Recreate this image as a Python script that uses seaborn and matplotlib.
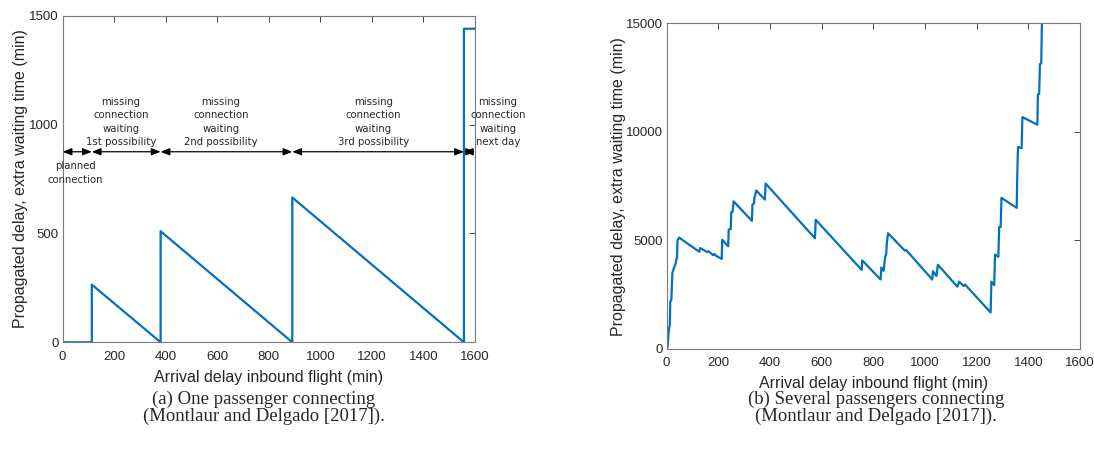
import numpy as np
import pandas as pd
import matplotlib
matplotlib.use('Agg')
import matplotlib.pyplot as plt
import seaborn as sns

# (a) one passenger connecting
one_x = [0, 113, 113, 380, 380, 891, 891, 1557, 1557, 1600]
one_y = [0, 0, 265, 0, 510, 0, 665, 0, 1440, 1440]

# connection windows on the annotation row
window_edges = [0, 113, 380, 891, 1557, 1600]
window_labels = ['planned\nconnection',
                 'missing\nconnection\nwaiting\n1st possibility',
                 'missing\nconnection\nwaiting\n2nd possibility',
                 'missing\nconnection\nwaiting\n3rd possibility',
                 'missing\nconnection\nwaiting\nnext day']
label_x = [48, 226, 614, 1205, 1689]

# (b) several passengers connecting
several_x = [2, 5, 7, 10, 12, 14, 18, 22, 26, 30, 34, 38, 40, 42, 48,
             126, 130, 157, 162, 180, 185, 190, 213, 215, 238, 240, 248, 250, 255, 259,
             330, 332, 338, 340, 342, 347, 380, 383,
             574, 577, 755, 757, 828, 831, 840, 845, 850, 852, 857,
             922, 927, 1028, 1031, 1044, 1050, 1125, 1132, 1150, 1155, 1254, 1257,
             1268, 1271, 1284, 1287, 1293, 1296, 1355, 1357, 1360, 1374, 1377,
             1435, 1437, 1442, 1445, 1450, 1452, 1455]
several_y = [0, 300, 700, 1000, 1100, 2200, 2250, 3500, 3650, 3800, 3900, 4150, 4200, 5000, 5130,
             4480, 4650, 4460, 4500, 4320, 4380, 4300, 4150, 5030, 4730, 5500, 5520, 6300, 6320, 6800,
             5900, 6650, 6700, 7000, 7050, 7300, 6880, 7620,
             5100, 5950, 3640, 4080, 3200, 3750, 3600, 4200, 4400, 4850, 5330,
             4530, 4560, 3200, 3580, 3360, 3880, 2870, 3100, 2900, 2970, 1680, 3100,
             2940, 4350, 4250, 5620, 5620, 6960, 6500, 7900, 9300, 9250, 10680,
             10330, 11720, 11750, 13130, 13150, 14700, 15600]

df_one = pd.DataFrame({'delay': one_x, 'prop': one_y})
df_several = pd.DataFrame({'delay': several_x, 'prop': several_y})

sns.set_theme(style='white')
plt.rcParams['font.family'] = ['Liberation Sans', 'DejaVu Sans']

blue = '#0072BD'
fig = plt.figure(figsize=(10.94, 4.53), dpi=100)
ax1 = fig.add_axes([0.0573, 0.2444, 0.3769, 0.721])
ax2 = fig.add_axes([0.6094, 0.2296, 0.3778, 0.719])

sns.lineplot(data=df_one, x='delay', y='prop', ax=ax1, color=blue, lw=1.6,
             sort=False, estimator=None)
sns.lineplot(data=df_several, x='delay', y='prop', ax=ax2, color=blue, lw=1.6,
             sort=False, estimator=None)

ax1.set_xlim(0, 1600)
ax1.set_ylim(0, 1500)
ax1.set_yticks([0, 500, 1000, 1500])
ax2.set_xlim(0, 1600)
ax2.set_ylim(0, 15000)
ax2.set_yticks([0, 5000, 10000, 15000])

for ax, ypad in ((ax1, 1), (ax2, 0)):
    ax.set_xticks(range(0, 1601, 200))
    ax.set_xlabel('Arrival delay inbound flight (min)', fontsize=11.5, color='#262626', labelpad=5)
    ax.set_ylabel('Propagated delay, extra waiting time (min)', fontsize=11.5, color='#262626',
                  labelpad=ypad)
    ax.tick_params(direction='in', top=True, right=True, length=4, width=0.6,
                   labelsize=9.5, colors='#262626')
    ax.tick_params(axis='x', pad=6)
    ax.tick_params(axis='y', pad=3)
    for s in ax.spines.values():
        s.set_color('#7a7a7a')
        s.set_linewidth(0.8)

# annotation arrows (a)
row_y = 875
for a, b in zip(window_edges[:-1], window_edges[1:]):
    ax1.annotate('', xy=(b, row_y), xytext=(a, row_y),
                 arrowprops=dict(arrowstyle='<|-|>,head_length=0.45,head_width=0.18',
                                 color='black', lw=0.9, shrinkA=0, shrinkB=0),
                 annotation_clip=False)

ax1.text(label_x[0], 831, window_labels[0], ha='center', va='top', fontsize=7.3,
         family='DejaVu Sans', linespacing=1.45)
for lx, lab in zip(label_x[1:], window_labels[1:]):
    ax1.text(lx, 1012, lab, ha='center', va='center', fontsize=7.3,
             family='DejaVu Sans', linespacing=1.45, clip_on=False)

fig.text(0.2413, 0.100, '(a) One passenger connecting\n(Montlaur and Delgado [2017]).',
         ha='center', va='center', fontsize=13.5, family='Liberation Serif', linespacing=1.0)
fig.text(0.8007, 0.100, '(b) Several passengers connecting\n(Montlaur and Delgado [2017]).',
         ha='center', va='center', fontsize=13.5, family='Liberation Serif', linespacing=1.0)

fig.savefig('out.png', dpi=100)
